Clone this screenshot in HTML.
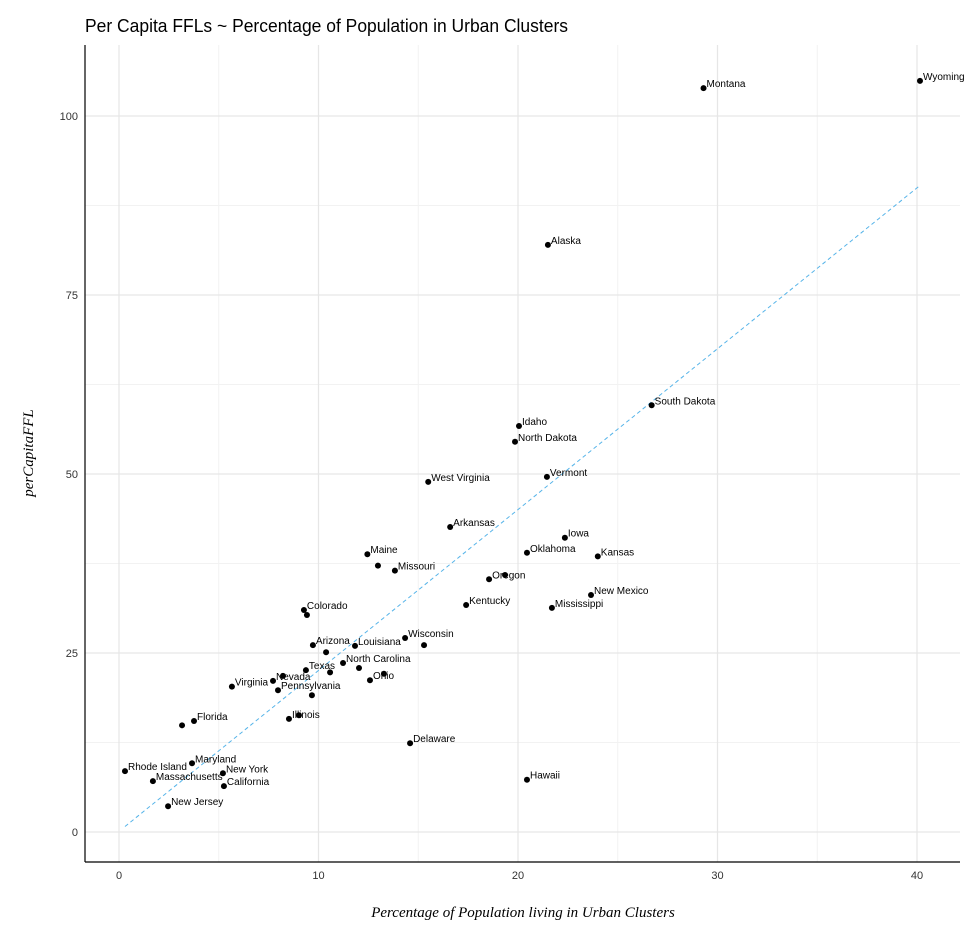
<!DOCTYPE html>
<html><head><meta charset="utf-8"><style>
body{margin:0;background:#fff;}
svg{display:block;font-family:"Liberation Sans",sans-serif;}
</style></head><body>
<svg id="chart" width="980" height="938" viewBox="0 0 980 938">
<text x="85" y="32" font-size="18" fill="#000" textLength="483" lengthAdjust="spacingAndGlyphs">Per Capita FFLs ~ Percentage of Population in Urban Clusters</text>
<g id="grid"></g>
<g id="trend"></g>
<g id="points"></g>
<line x1="85" y1="45" x2="85" y2="862" stroke="#000" stroke-width="1.2"/>
<line x1="85" y1="862" x2="960" y2="862" stroke="#000" stroke-width="1.2"/>
<g id="ticks"></g>
<text x="523" y="917" text-anchor="middle" font-family="Liberation Serif,serif" font-style="italic" font-size="15">Percentage of Population living in Urban Clusters</text>
<text transform="translate(33,453) rotate(-90)" text-anchor="middle" font-family="Liberation Serif,serif" font-style="italic" font-size="15">perCapitaFFL</text>
</svg>
<script>
const labels=["Wyoming","Montana","Alaska","South Dakota","Idaho","North Dakota","Vermont","West Virginia","Arkansas","Iowa","Maine","Oklahoma","Kansas","","Missouri","Oregon","","New Mexico","Kentucky","Mississippi","Colorado","","Wisconsin","","Arizona","","Louisiana","North Carolina","","Texas","","Ohio","","Virginia","Nevada","","Pennsylvania","","Florida","","Illinois","","Delaware","Maryland","Rhode Island","New York","Massachusetts","California","Hawaii","New Jersey"];
const xVals=[40.15,29.3,21.5,26.7,20.05,19.85,21.45,15.5,16.6,22.35,12.45,20.45,24.0,12.98,13.83,18.55,19.35,23.66,17.4,21.7,9.27,9.42,14.34,15.29,9.72,10.38,11.83,11.23,12.03,9.37,10.58,12.58,13.28,5.66,7.72,8.22,7.97,9.67,3.76,3.16,8.52,9.02,14.59,3.66,0.3,5.21,1.7,5.26,20.45,2.46];
const yVals=[104.9,103.9,82.0,59.6,56.7,54.5,49.6,48.9,42.6,41.1,38.8,39.0,38.5,37.2,36.5,35.3,35.9,33.1,31.7,31.3,31.0,30.3,27.1,26.1,26.1,25.1,26.0,23.6,22.9,22.6,22.3,21.2,22.1,20.3,21.1,21.8,19.8,19.1,15.5,14.9,15.8,16.3,12.4,9.6,8.5,8.2,7.1,6.4,7.3,3.6];
const trendX=[0.3,40.15];
const trendY=[0.77,90.3];
const xTicks=[0,10,20,30,40];
const yTicks=[0,25,50,75,100];
const xMinor=[5,15,25,35];
const yMinor=[12.5,37.5,62.5,87.5];

const NS="http://www.w3.org/2000/svg";
const sx=v=>119+v*19.95;
const sy=v=>832-v*7.16;
function mk(tag,attrs,parent){const e=document.createElementNS(NS,tag);for(const k in attrs)e.setAttribute(k,attrs[k]);parent.appendChild(e);return e;}
const grid=document.getElementById('grid'),ticks=document.getElementById('ticks');
xMinor.forEach(v=>{const l=mk('line',{x1:sx(v),x2:sx(v),y1:45,y2:862,stroke:'#f2f2f2','stroke-width':1},grid);

});
yMinor.forEach(v=>{const l=mk('line',{x1:85,x2:960,y1:sy(v),y2:sy(v),stroke:'#f2f2f2','stroke-width':1},grid);

});
xTicks.forEach(v=>{const l=mk('line',{x1:sx(v),x2:sx(v),y1:45,y2:862,stroke:'#e6e6e6','stroke-width':1.2},grid);


const t=mk('text',{x:sx(v),y:879,'text-anchor':'middle','font-size':11,fill:'#333'},ticks);t.textContent=v;

});
yTicks.forEach(v=>{const l=mk('line',{x1:85,x2:960,y1:sy(v),y2:sy(v),stroke:'#e6e6e6','stroke-width':1.2},grid);


const t=mk('text',{x:78,y:sy(v)+4,'text-anchor':'end','font-size':11,fill:'#333'},ticks);t.textContent=v;

});
const tl=mk('line',{x1:sx(trendX[0]),y1:sy(trendY[0]),x2:sx(trendX[1]),y2:sy(trendY[1]),stroke:'#56b4e9','stroke-width':1,'stroke-dasharray':'4,3'},document.getElementById('trend'));


const pts=document.getElementById('points');
xVals.forEach((x,i)=>{const c=mk('circle',{cx:sx(x),cy:sy(yVals[i]),r:3,fill:'#000'},pts);


if(labels[i]){const t=mk('text',{x:sx(x)+3,y:sy(yVals[i])-1,'font-size':10,fill:'#000'},pts);t.textContent=labels[i];

}});
</script>
</body></html>
